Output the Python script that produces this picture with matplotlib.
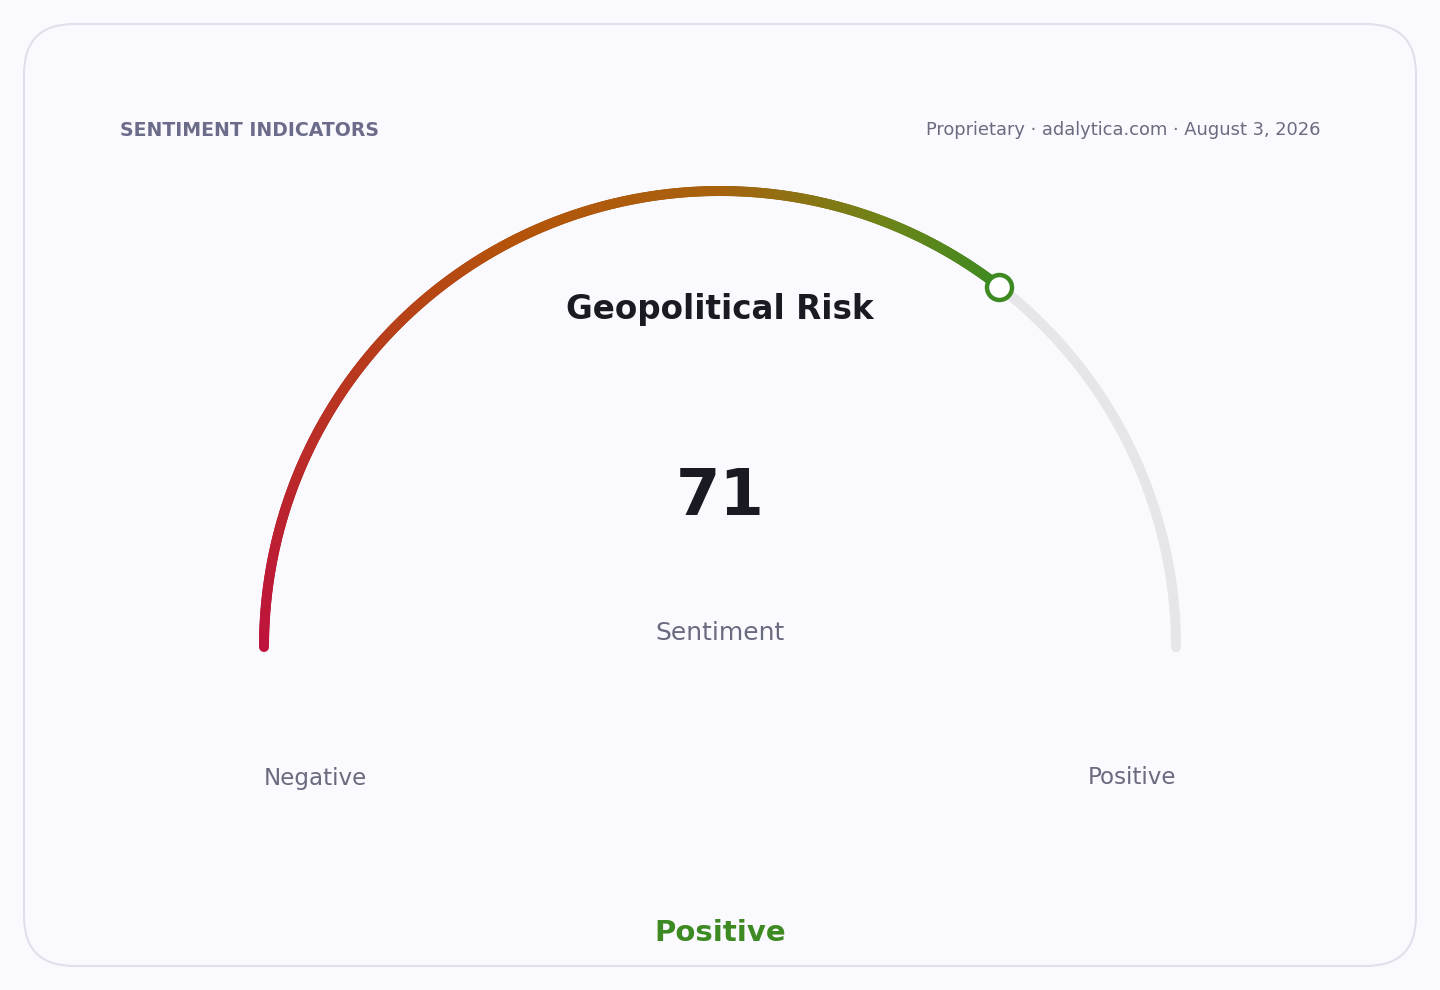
import matplotlib

matplotlib.use("Agg")
import matplotlib.pyplot as plt
import numpy as np
from matplotlib.collections import LineCollection
from matplotlib.colors import LinearSegmentedColormap
from matplotlib.patches import FancyBboxPatch

title = "Geopolitical Risk"
header = "SENTIMENT INDICATORS"
source = "Proprietary \u00b7 adalytica.com \u00b7 August 3, 2026"
value = 71
value_min, value_max = 0, 100
end_labels = ["Negative", "Positive"]
verdict = "Positive"
subtitle = "Sentiment"

# colour stops along the filled part (value -> colour)
stop_values = [0, 35, 50, 62, 71]
stop_colors = ["#be123c", "#b4530a", "#a8620e", "#6e8418", "#3d8a22"]

W, H = 1440, 990
cx, cy, r = 720, 647, 456
pad = 50

fig = plt.figure(figsize=(W / 100, H / 100), dpi=100)
fig.patch.set_facecolor("#fafafe")
ax = fig.add_axes([0, 0, 1, 1])
ax.set_xlim(0, W)
ax.set_ylim(H, 0)
ax.axis("off")

# card with rounded corners
card = FancyBboxPatch(
    (24 + pad, 24 + pad), W - 48 - 2 * pad, H - 48 - 2 * pad,
    boxstyle=f"round,pad={pad}",
    facecolor="#f9f9fe",
    edgecolor="#e0e0ec",
    linewidth=1.5,
)
ax.add_patch(card)


def to_xy(v):
    ang = np.pi * (1 - (v - value_min) / (value_max - value_min))
    return cx + r * np.cos(ang), cy - r * np.sin(ang)


# background track
tv = np.linspace(value_min, value_max, 400)
tx, ty = to_xy(tv)
ax.plot(tx, ty, color="#e5e5ea", linewidth=7.2, solid_capstyle="round", zorder=2)

# gradient fill
cmap = LinearSegmentedColormap.from_list(
    "sent", list(zip(np.array(stop_values) / value, stop_colors))
)
fv = np.linspace(value_min, value, 400)
fx, fy = to_xy(fv)
pts = np.column_stack([fx, fy]).reshape(-1, 1, 2)
segs = np.concatenate([pts[:-1], pts[1:]], axis=1)
lc = LineCollection(
    segs,
    colors=cmap((fv[:-1] - value_min) / (value - value_min)),
    linewidths=7.2,
    capstyle="round",
    zorder=3,
)
ax.add_collection(lc)

mx, my = to_xy(value)
ax.plot(mx, my, marker="o", markersize=18, markerfacecolor="white",
        markeredgecolor="#3d8a22", markeredgewidth=3.2, zorder=4)

ax.text(120, 130, header, fontsize=13.6, fontweight="bold", color="#6b6b8a",
        ha="left", va="center")
ax.text(1320, 130, source, fontsize=12.9, color="#6b6b80",
        ha="right", va="center")
ax.text(720, 309, title, fontsize=23.5, fontweight="bold", color="#1a1a22",
        ha="center", va="center")
ax.text(720, 497, str(value), fontsize=46, fontweight="bold", color="#1a1a22",
        ha="center", va="center")
ax.text(720, 633, subtitle, fontsize=18, color="#6b6b80",
        ha="center", va="center")
ax.text(264, 778, end_labels[0], fontsize=16.6, color="#6b6b80",
        ha="left", va="center")
ax.text(1176, 778, end_labels[1], fontsize=16.6, color="#6b6b80",
        ha="right", va="center")
ax.text(720, 933, verdict, fontsize=21, fontweight="bold", color="#3d8a22",
        ha="center", va="center")

fig.savefig("out.png", dpi=100, facecolor=fig.get_facecolor())
